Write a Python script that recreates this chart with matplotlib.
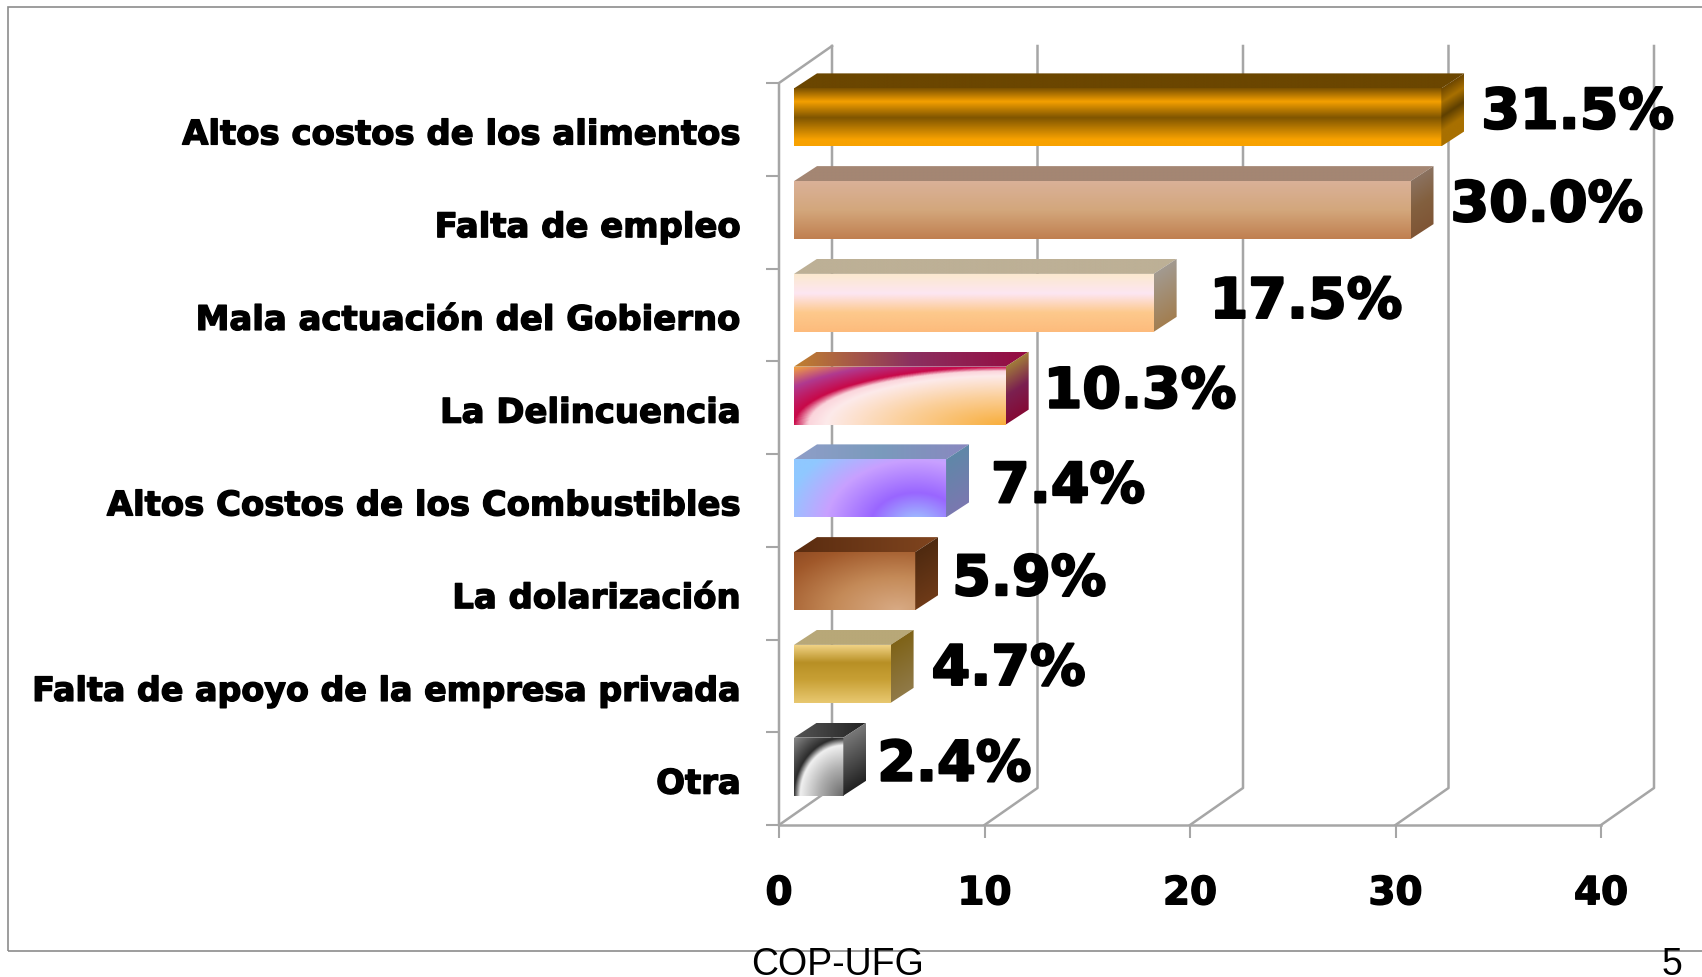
import numpy as np
import matplotlib
matplotlib.use('Agg')
import matplotlib.pyplot as plt
import matplotlib.patheffects as pe
from matplotlib.colors import LinearSegmentedColormap
from matplotlib.patches import Polygon, Rectangle

W, H = 1702, 978

# data
categories = ['Altos costos de los alimentos', 'Falta de empleo', 'Mala actuación del Gobierno',
              'La Delincuencia', 'Altos Costos de los Combustibles', 'La dolarización',
              'Falta de apoyo de la empresa privada', 'Otra']
values = [31.5, 30.0, 17.5, 10.3, 7.4, 5.9, 4.7, 2.4]
value_labels = ['31.5%', '30.0%', '17.5%', '10.3%', '7.4%', '5.9%', '4.7%', '2.4%']
x_ticks = [0, 10, 20, 30, 40]

# hand placed data labels in the original (px right of the bar, px above the slot centre)
label_gap = [17, 17, 33, 15, 22, 14, 18, 11]
label_up = [16, 16, 12, 15, 13, 13, 16, 13]

# gradient stops: face (kind, stops), top face (left to right), side (top to bottom)
faces = [
    (('v', ), [(0, '#7a5000'), (.23, '#f5a000'), (.51, '#7f5500'), (.89, '#f8a200'), (1, '#f8a200')]),
    (('v', ), ['#dab198', '#d3a77c', '#c07f50']),
    (('v', ), ['#fbe9cf', '#fde6f2', '#fdc98c', '#fdbb7c']),
    (('r', 1.0, 0.0, 1.0, 1.0), [(0, '#f8ae3c'), (.35, '#fbd09c'), (.6, '#fdeaea'), (.66, '#fbd5dc'),
                                 (.71, '#c80848'), (.85, '#b03a90'), (1, '#f2a040')]),
    (('r', 0.8, -0.15, 1.0, 1.9), [(0, '#a0d0ff'), (.21, '#9966ff'), (.42, '#c8a0ff'), (.62, '#90c8ff'), (1, '#8fc8ff')]),
    (('r', 0.85, 0.0, 1.1, 1.2), ['#d8aa84', '#c48a58', '#a0582a', '#7a3a1a']),
    (('v', ), [(0, '#f0d284'), (.3, '#b89025'), (.6, '#c8a035'), (1, '#e8c870')]),
    (('r', 1.0, 0.0, 1.0, 1.0), [(0, '#6a6a6a'), (.35, '#b0b0b0'), (.62, '#f0f0f0'), (.71, '#2c2c2c'), (1, '#888888')]),
]
tops = [
    ['#6b4600', '#6b4600'],
    ['#a48673', '#a48673'],
    ['#bdb096', '#bdb096'],
    ['#c08030', '#8b3060', '#950a40'],
    ['#8f9ec8', '#7a9abc', '#8a88c0'],
    ['#5a2c10', '#80451f'],
    ['#b8a878', '#b8a878'],
    ['#555555', '#222222'],
]
sides = [
    ['#6b4500', '#a87000', '#5f4000', '#a87000', '#a87000'],
    ['#8b7260', '#83603f', '#7f5535'],
    ['#a29a90', '#a37e50'],
    ['#a07a3a', '#7b2050', '#850a35'],
    ['#5f88a8', '#7a78b0'],
    ['#4f2a10', '#6e3a18'],
    ['#7f6318', '#907a48'],
    ['#777777', '#222222'],
]

grid_color = '#a6a6a6'

# size of a pixel in data units
ux = 40 / (1601 - 779)
uy = 8 / (826 - 84)

# axes reach above the first slot so the bar tops are not cut
fig = plt.figure(figsize=(W / 100, H / 100), dpi=100)
ax = fig.add_axes([779 / W, 1 - 826 / H, (1601 - 779) / W, (826 - 30) / H])
ax.set_xlim(0, 40)
ax.set_ylim(8, -54 * uy)
ax.set_autoscale_on(False)
ax.patch.set_visible(False)
for s in ax.spines.values():
    s.set_visible(False)


def gradient(stops):
    return LinearSegmentedColormap.from_list('g', stops, N=256)


def paint(arr, extent, clip):
    im = ax.imshow(arr, extent=extent, aspect='auto', interpolation='bilinear', zorder=3)
    im.set_clip_path(clip)


# walls and gridlines
wall_dx, wall_dy = 53 * ux, 37 * uy
for t in x_ticks:
    ax.plot([t, t + wall_dx, t + wall_dx], [8, 8 - wall_dy, -wall_dy],
            color=grid_color, lw=1.8, clip_on=False, zorder=1)
ax.plot([0, 0, wall_dx], [8, 0, -wall_dy], color=grid_color, lw=1.8, clip_on=False, zorder=1)
ax.plot([0, 40], [8, 8], color=grid_color, lw=1.8, clip_on=False, zorder=1)

# bars
bar_left = 15 * ux
bar_h = 58 * uy
depth_x, depth_y = 23 * ux, 15 * uy
y_pos = np.arange(len(values)) + 0.5 - 12 * uy
bars = ax.barh(y_pos, values, left=bar_left, height=bar_h, color='none', clip_on=False, zorder=2)

heavy = [pe.withStroke(linewidth=1.6, foreground='black')]
n = 160
for i, b in enumerate(bars):
    x0, x1 = b.get_x(), b.get_x() + b.get_width()
    y_top, y_bot = b.get_y(), b.get_y() + b.get_height()
    U, V = np.meshgrid(np.linspace(0, 1, n), np.linspace(1, 0, n))

    # front
    kind, stops = faces[i]
    if kind[0] == 'v':
        t = 1 - V
    else:
        t = np.sqrt(((U - kind[1]) / kind[3]) ** 2 + ((V - kind[2]) / kind[4]) ** 2) / 1.415
    front = Rectangle((x0, y_top), x1 - x0, y_bot - y_top, transform=ax.transData)
    paint(gradient(stops)(np.clip(t, 0, 1)), (x0, x1, y_bot, y_top), front)

    # top
    top = Polygon([(x0, y_top), (x0 + depth_x, y_top - depth_y),
                   (x1 + depth_x, y_top - depth_y), (x1, y_top)], transform=ax.transData)
    paint(gradient(tops[i])(U), (x0, x1 + depth_x, y_top, y_top - depth_y), top)

    # side, gradient follows the slant of the box
    side = Polygon([(x1, y_top), (x1 + depth_x, y_top - depth_y),
                    (x1 + depth_x, y_bot - depth_y), (x1, y_bot)], transform=ax.transData)
    frac = depth_y / (bar_h + depth_y)
    v_face = (V - frac * U) / (1 - frac)
    paint(gradient(sides[i])(np.clip(1 - v_face, 0, 1)), (x1, x1 + depth_x, y_bot, y_top - depth_y), side)

    ax.annotate(value_labels[i], xy=(values[i], i + 0.5),
                xytext=(38 + label_gap[i], label_up[i]), textcoords='offset pixels',
                ha='left', va='center', fontsize=40, fontweight='bold',
                family='DejaVu Sans', color='black', zorder=6, annotation_clip=False,
                path_effects=heavy)

# axes ticks and labels
ax.set_xticks(x_ticks)
ax.set_xticklabels([str(t) for t in x_ticks], fontsize=28, fontweight='bold', family='DejaVu Sans',
                   path_effects=[pe.withStroke(linewidth=1.0, foreground='black')])
ax.tick_params(axis='x', length=9.5, width=1.5, color=grid_color, pad=26)
ax.set_yticks(np.arange(9))
ax.set_yticklabels([])
ax.set_yticks(np.arange(8) + 0.5 + 2 * uy, minor=True)
ylabels = ax.set_yticklabels(categories, minor=True, fontsize=24.4, fontweight='bold', family='DejaVu Sans',
                             path_effects=[pe.withStroke(linewidth=1.0, foreground='black')])
ylabels[6].set_fontsize(24)
ax.tick_params(axis='y', which='major', length=9.5, width=1.5, color=grid_color)
ax.tick_params(axis='y', which='minor', length=0, pad=27.5)

# slide footer sits under the frame line, which cuts the top of the letters
fig.text(837.5 / W, 1 - 975 / H, 'COP-UFG', family='Liberation Sans', fontsize=27, ha='center', va='baseline')
fig.text(1672 / W, 1 - 975 / H, '5', family='Liberation Sans', fontsize=27, ha='center', va='baseline')
fig.add_artist(Rectangle((8 / W, 1 - 952 / H), (W + 20) / W, (952 - 8) / H, fill=False,
                         edgecolor='#8c8c8c', lw=1.2, transform=fig.transFigure))

fig.savefig('out.png', dpi=100)
